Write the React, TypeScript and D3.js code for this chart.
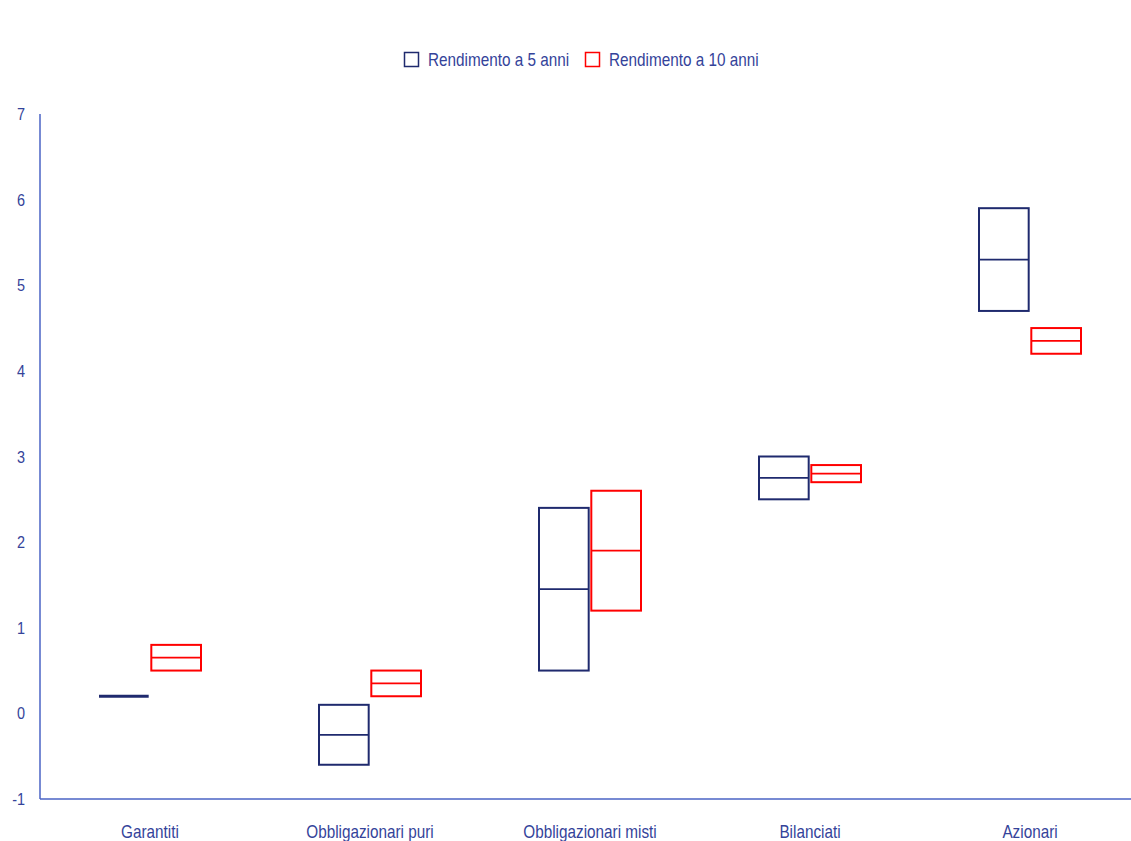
import React from "react";
import * as d3 from "d3";

const categories = ["Garantiti", "Obbligazionari puri", "Obbligazionari misti", "Bilanciati", "Azionari"];
const seriesNames = ["Rendimento a 5 anni", "Rendimento a 10 anni"];
// [low, mid, high]
const rend5Low = [0.2, -0.6, 0.5, 2.5, 4.7];
const rend5Mid = [0.2, -0.25, 1.45, 2.75, 5.3];
const rend5High = [0.2, 0.1, 2.4, 3.0, 5.9];
const rend10Low = [0.5, 0.2, 1.2, 2.7, 4.2];
const rend10Mid = [0.65, 0.35, 1.9, 2.8, 4.35];
const rend10High = [0.8, 0.5, 2.6, 2.9, 4.5];
const yTicks = [-1, 0, 1, 2, 3, 4, 5, 6, 7];

const W = 1131;
const H = 841;
const colors = ["#1f2a6e", "#ff0000"];
const textColor = "#34439a";
const axisColor = "#4a63c4";
const font = "'Liberation Sans', Arial, sans-serif";
const sx = 0.85;

export default function App() {
  const y = d3.scaleLinear().domain([-1, 7]).range([799, 114]);
  const x = d3.scaleBand<string>().domain(categories).range([40, 1140]);
  const sub = d3.scaleBand<number>().domain([0, 1]).range([-51, 51]).paddingInner(0.05);

  const series = [
    { low: rend5Low, mid: rend5Mid, high: rend5High },
    { low: rend10Low, mid: rend10Mid, high: rend10High },
  ];

  return (
    <svg width={W} height={H} style={{ position: "absolute", left: 0, top: 0, background: "#fff" }}
      fontFamily={font}>
      {/* legend */}
      {seriesNames.map((n, i) => {
        const lx = i === 0 ? 404 : 585;
        return (
          <g key={n}>
            <rect x={lx + 0.5} y={52.5} width={14} height={14} fill="none" stroke={colors[i]} strokeWidth={1.5} />
            <text transform={`translate(${lx + 24},66) scale(${sx},1)`} fontSize={18} fill={textColor}>{n}</text>
          </g>
        );
      })}
      {/* axes */}
      <line x1={40} x2={40} y1={y(7)} y2={y(-1)} stroke={axisColor} strokeWidth={1.5} />
      <line x1={40} x2={W} y1={y(-1)} y2={y(-1)} stroke={axisColor} strokeWidth={1.5} />
      {yTicks.map((t) => (
        <text key={t} transform={`translate(25,${y(t) + 6}) scale(${sx},1)`} textAnchor="end" fontSize={17} fill={textColor}>{t}</text>
      ))}
      {categories.map((c) => (
        <text key={c} transform={`translate(${(x(c) ?? 0) + x.bandwidth() / 2},838) scale(${sx},1)`} textAnchor="middle" fontSize={18} fill={textColor}>{c}</text>
      ))}
      {/* boxes */}
      {series.map((s, si) =>
        categories.map((c, ci) => {
          const cx = (x(c) ?? 0) + x.bandwidth() / 2;
          const x0 = cx + (sub(si) ?? 0);
          const w = sub.bandwidth();
          const top = y(s.high[ci]);
          const bot = y(s.low[ci]);
          const flat = Math.abs(bot - top) < 1;
          return (
            <g key={`${si}-${ci}`}>
              {flat ? (
                <line x1={x0} x2={x0 + w} y1={top} y2={top} stroke={colors[si]} strokeWidth={3} />
              ) : (
                <>
                  <rect x={x0} y={top} width={w} height={bot - top} fill="none" stroke={colors[si]} strokeWidth={2} />
                  <line x1={x0} x2={x0 + w} y1={y(s.mid[ci])} y2={y(s.mid[ci])} stroke={colors[si]} strokeWidth={1.8} />
                </>
              )}
            </g>
          );
        })
      )}
    </svg>
  );
}
